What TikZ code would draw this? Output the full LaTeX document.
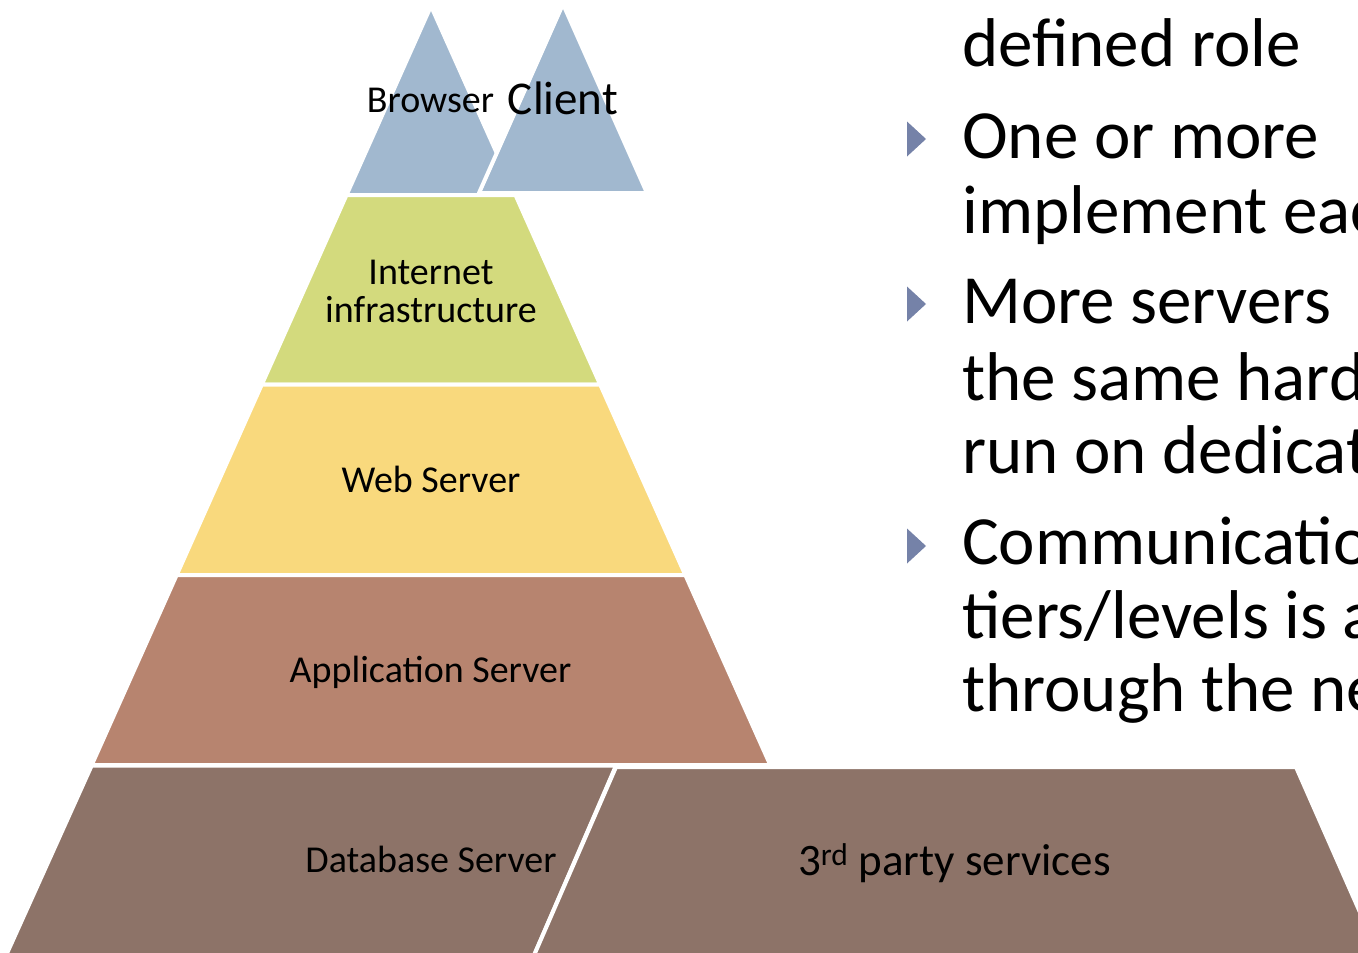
\documentclass[tikz,border=0pt]{standalone}
\usepackage{fontspec}
\setmainfont{Carlito}
\usepackage{tikz}
\definecolor{tierblue}{HTML}{A1B8CF}
\definecolor{tiergreen}{HTML}{D3DA7D}
\definecolor{tieryellow}{HTML}{F9D97D}
\definecolor{tierapp}{HTML}{B7846F}
\definecolor{tierdb}{HTML}{8D7368}
\definecolor{bulletblue}{HTML}{7582A8}

\begin{document}
\begin{tikzpicture}[x=1pt,y=-1pt,
		tier/.style={draw=white,line width=4pt,line join=round},
		tiertext/.style={inner sep=0pt,anchor=base,font=\fontsize{38}{38}\selectfont},
		bodyline/.style={inner sep=0pt,anchor=base west,font=\fontsize{69}{74}\selectfont}]
				\useasboundingbox (0,0) rectangle (1358,953);
				\clip (0,0) rectangle (1358,953);
				
				% top: browser / client
				\path[tier,fill=tierblue] (346.5,195) -- (431,6) -- (515.5,195) -- cycle;
				\path[tier,fill=tierblue] (479,193) -- (563,4) -- (647,193) -- cycle;
				
				% pyramid layers
				\foreach \t/\b/\c in
				{195/384.5/tiergreen, 384.5/575/tieryellow, 575/765/tierapp}{
					\path[tier,fill=\c] ({431-0.447*(\t-6)},\t) -- ({431+0.447*(\t-6)},\t)
						-- ({431+0.447*(\b-6)},\b) -- ({431-0.447*(\b-6)},\b) -- cycle;
				}
				
				% bottom row
				\path[tier,fill=tierdb] (91.7,765.5) -- (616,765.5) -- (532,960) -- (4,960) -- cycle;
				\path[tier,fill=tierdb] (616,767) -- (1296,767) -- (1381,960) -- (532,960) -- cycle;
				
				% tier labels
				\node[tiertext] (browser) at (430.5,112){Browser};
				\node[tiertext,font=\fontsize{47}{47}\selectfont] (client) at (563,114){Client};
				\node[tiertext,anchor=center,align=center] (internet) at (431,291){Internet\\infrastructure};
				\node[tiertext] (web) at (431,492){Web Server};
				\node[tiertext] (app) at (430.5,682){Application Server};
				\node[tiertext] (db) at (431,872){Database Server};
				\node[tiertext,font=\fontsize{45}{45}\selectfont] (third) at (954.5,875){3\textsuperscript{rd} party services};
				
				% bullets
				\foreach \y in {139, 304, 546}{
					\fill[bulletblue] (907,\y-17.5) -- (926,\y) -- (907,\y+17.5) -- cycle;
				}
				
				% text column (cut at the right edge)
				\foreach \n/\y/\s in
				{l1/66.7/defined role, l2/158.3/One or more, l3/233.3/implement eac,
				 l4/323.3/More servers, l5/400/the same hard, l6/473.3/run on dedicat,
				 l7/564/Communicatio, l8/638.3/{tiers/levels is a}, l9/711.7/through the ne}{
					\node[bodyline] (\n) at (962,\y){\s};
				}
			\end{tikzpicture}
\end{document}
